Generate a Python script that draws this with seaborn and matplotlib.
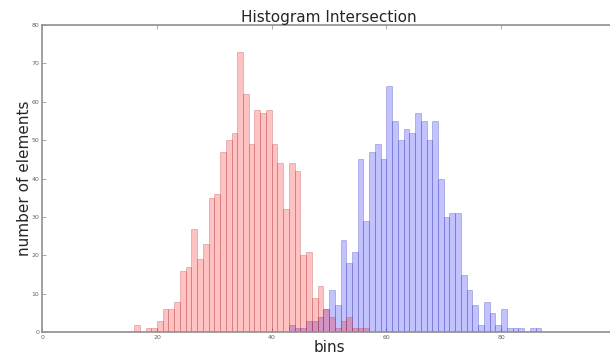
import numpy as np
import pandas as pd
import matplotlib
matplotlib.use("Agg")
import matplotlib.pyplot as plt
import seaborn as sns

# Histogram counts per unit-wide bin (left bin edge -> count)
red_bins = list(range(16, 57))
red_counts = [2, 0, 1, 1, 3, 6, 6, 8, 16, 17, 27, 19, 23, 35, 36, 47, 50, 52, 73, 62,
              49, 58, 57, 58, 49, 44, 32, 44, 42, 20, 21, 9, 12, 6, 4, 1, 3, 4, 1, 1, 1]

blue_bins = list(range(43, 87))
blue_counts = [2, 1, 1, 3, 3, 4, 6, 11, 7, 24, 18, 21, 45, 29, 47, 49, 45, 64, 55, 50,
               53, 52, 57, 55, 50, 55, 40, 30, 31, 31, 15, 11, 7, 2, 8, 5, 2, 6, 1, 1,
               1, 0, 1, 1]

x_ticks = [0, 20, 40, 60, 80]
y_ticks = [0, 10, 20, 30, 40, 50, 60, 70, 80]

red_df = pd.DataFrame({"value": np.array(red_bins, dtype=float) + 0.5,
                       "count": np.array(red_counts, dtype=float)})
blue_df = pd.DataFrame({"value": np.array(blue_bins, dtype=float) + 0.5,
                        "count": np.array(blue_counts, dtype=float)})

sns.set_style("ticks")
plt.rcParams["font.family"] = ["DejaVu Sans"]

fig = plt.figure(figsize=(6.10, 3.55), dpi=100)
# the plotting area runs past the right border of the canvas (x = 100 is clipped)
ax = fig.add_axes([42.3 / 610, 22.7 / 355, (615.8 - 42.3) / 610, 307.3 / 355])

sns.histplot(data=blue_df, x="value", weights="count",
             binwidth=1, binrange=(blue_bins[0], blue_bins[-1] + 1),
             color="blue", alpha=0.24, edgecolor=(0.25, 0.25, 0.7, 0.35),
             linewidth=0.6, ax=ax)
sns.histplot(data=red_df, x="value", weights="count",
             binwidth=1, binrange=(red_bins[0], red_bins[-1] + 1),
             color="red", alpha=0.24, edgecolor=(0.7, 0.25, 0.25, 0.35),
             linewidth=0.6, ax=ax)

ax.set_xlim(0, 100)
ax.set_ylim(0, 80)
ax.set_xticks(x_ticks)
ax.set_yticks(y_ticks)
ax.tick_params(axis="both", which="both", direction="in", length=3, width=0.6,
               labelsize=4.5, labelcolor="#666666", color="#999999",
               top=True, right=True, pad=2)

for side in ["left", "right", "top", "bottom"]:
    ax.spines[side].set_visible(True)
    ax.spines[side].set_color("#8f8f8f")
    ax.spines[side].set_linewidth(1.2)

ax.set_title("Histogram Intersection", fontsize=11, pad=-0.5)
ax.set_xlabel("bins", fontsize=11)
ax.set_ylabel("number of elements", fontsize=11)
ax.xaxis.set_label_coords(0.5, -0.025)
ax.yaxis.set_label_coords(-0.018, 0.5)

fig.savefig("out.png", dpi=100)
